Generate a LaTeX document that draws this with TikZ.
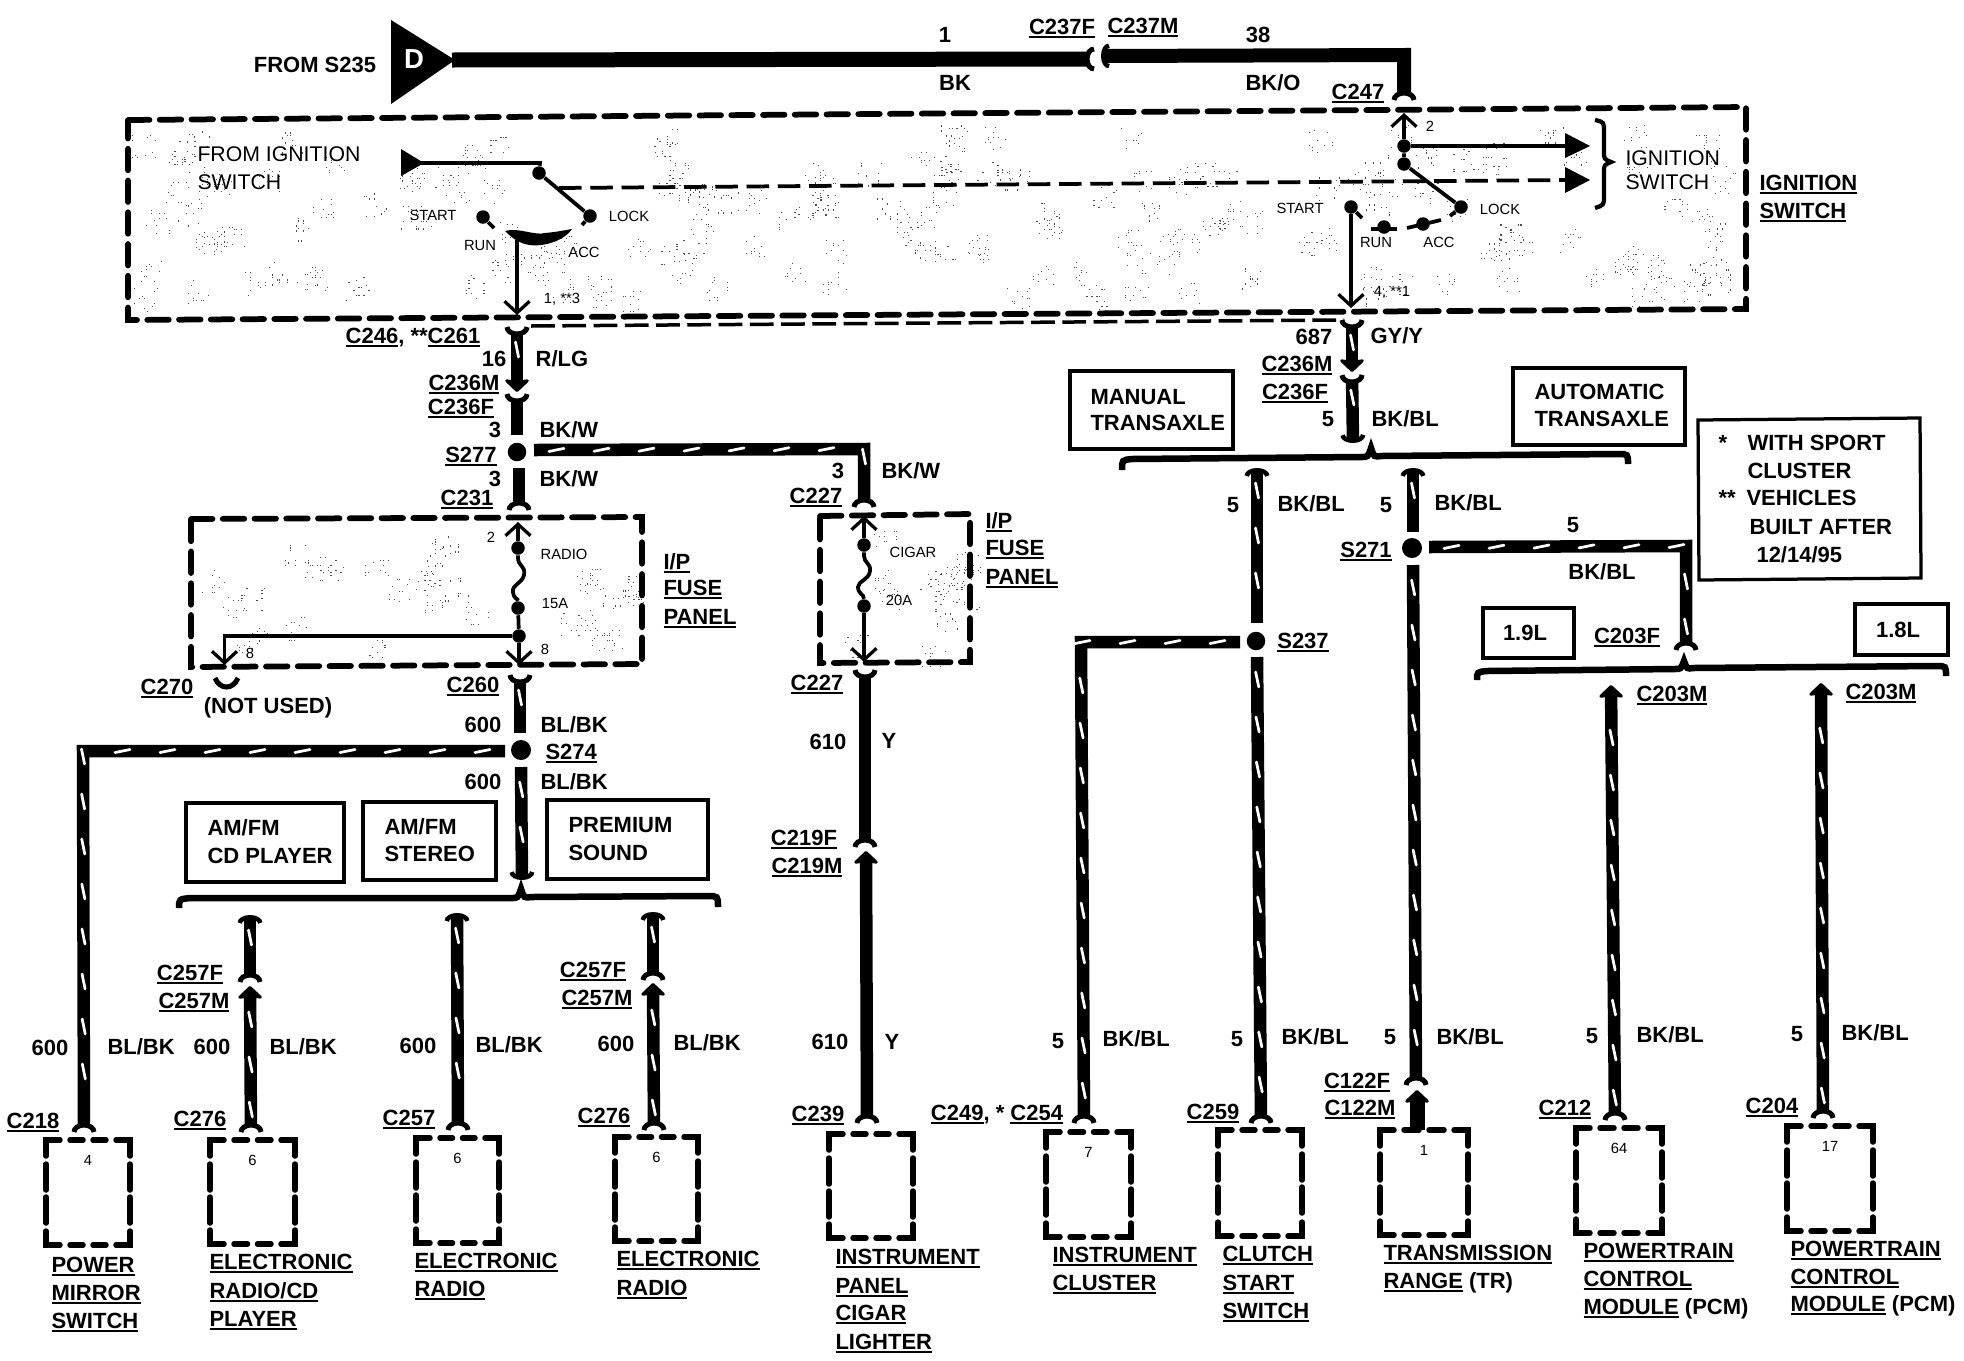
\documentclass[tikz,border=0pt]{standalone}
\usepackage{fontspec}
\setmainfont{Liberation Sans}
\usetikzlibrary{arrows.meta,decorations.markings}
\newsavebox\uubox
\newcommand\labC[4]{\node[lbb] (#1) at (#2,#3) {#4};}
\newcommand\labW[4]{\node[lbb,anchor=west] (#1) at (#2,#3) {#4};}
\newcommand\labR[4]{\node[lbr,anchor=west] (#1) at (#2,#3) {#4};}
\newcommand\labS[4]{\node[lbs] (#1) at (#2,#3) {#4};}
\newcommand\uu[1]{\sbox\uubox{#1}\rlap{\rule[-1.1pt]{\wd\uubox}{0.65pt}}\usebox\uubox}
\newcommand\compbox[6]{%
 \node[lbs] (#1) at ({(#2+#4)/2},{#3+20}) {#6};
 \draw[cbx] (#2,{#3+16}) -- (#2,#3) -- ({#2+14},#3);
 \draw[cbx] ({#4-14},#3) -- (#4,#3) -- (#4,{#3+16});
 \draw[cbx] (#2,{#5-14}) -- (#2,#5) -- ({#2+14},#5);
 \draw[cbx] ({#4-14},#5) -- (#4,#5) -- (#4,{#5-14});
 \draw[cbx] ({#2+24},#3) -- ({(#2+#4)/2-5},#3);
 \draw[cbx] ({(#2+#4)/2+5},#3) -- ({#4-24},#3);
 \draw[cbx] ({#2+24},#5) -- ({(#2+#4)/2-5},#5);
 \draw[cbx] ({(#2+#4)/2+5},#5) -- ({#4-24},#5);
 \draw[cbx] (#2,{#3+24}) -- (#2,{#3+50});
 \draw[cbx] (#2,{#3+57}) -- (#2,{#3+83});
 \draw[cbx] (#4,{#3+24}) -- (#4,{#3+50});
 \draw[cbx] (#4,{#3+57}) -- (#4,{#3+83});
}
\newcommand\stipple[6]{% x y w h clusters seed
 \pgfmathsetseed{#6}
 \foreach \cc in {1,...,#5}{
  \pgfmathsetmacro\cx{#1+#3*rnd}
  \pgfmathsetmacro\cy{#2+#4*rnd}
  \foreach \dd in {1,...,12}{
   \pgfmathsetmacro\dx{\cx+int(10*rnd)*2.5}
   \pgfmathsetmacro\dy{\cy+int(10*rnd)*2.5}
   \fill[black!70] (\dx,\dy) rectangle ++(1.1,1.1);
  }
 }
}
\tikzset{
 x=0.4pt,y=-0.4pt,
 lbb/.style={font=\fontsize{8.8pt}{10pt}\selectfont\bfseries,inner sep=0pt,text height=6.3pt,text depth=0pt},
 lbr/.style={font=\fontsize{8.5pt}{10pt}\selectfont,inner sep=0pt,text height=6.1pt,text depth=0pt},
 lbs/.style={font=\fontsize{5.9pt}{7pt}\selectfont,inner sep=0pt,text height=4.2pt,text depth=0pt},
 fl/.tip={Arc Barb[reversed,length=3.8pt,width=10pt,line width=2pt]},
 cb/.tip={Arc Barb[length=3.2pt,width=10pt,line width=1.8pt]},
 ma/.tip={Stealth[length=5.5pt,width=11.5pt,inset=0.8pt,round]},
 tn/.tip={Straight Barb[length=4.6pt,width=10pt,line width=1.3pt]},
 wire/.style={line width=5pt,line join=miter},
 slashed/.style={postaction={decorate,decoration={markings,
   mark=between positions 9pt and -9pt step 18pt with
   {\draw[white,line width=1.1pt,line cap=round,-] (-3pt,-0.6pt) -- (3pt,0.6pt);}}}},
 thinw/.style={line width=1.5pt},
 dbx/.style={line width=2.3pt,line cap=round,dash pattern=on 8.6pt off 4.1pt},
 cbx/.style={line width=2.2pt,line cap=round},
 shld/.style={line width=1.4pt,dash pattern=on 9.5pt off 3pt},
 brc/.style={line width=2.6pt},
 tbox/.style={draw,line width=1.3pt},
 dotn/.style={circle,fill=black,inner sep=0pt,minimum size=5.4pt},
 sdot/.style={circle,fill=black,inner sep=0pt,minimum size=7.4pt},
}
\begin{document}
\begin{tikzpicture}
\useasboundingbox (0,0) rectangle (1964,1360);
\fill[white] (0,0) rectangle (1964,1360);
% ---- stipple
\stipple{132}{124}{1590}{165}{170}{11}
\stipple{196}{524}{435}{120}{28}{23}
\stipple{826}{522}{135}{125}{14}{37}
% ---- top feed
\fill (391,20) -- (455,60) -- (391,104) -- cycle;
\node[font=\fontsize{11pt}{12pt}\selectfont\bfseries,text=white,inner sep=0pt] (dlet) at (414,59) {D};
\coordinate (t1) at (452,60); \coordinate (t2) at (1094,59);
\draw[wire,line width=6pt,-{fl}] (t1) -- (t2);
\coordinate (t3) at (1101,56); \coordinate (t4) at (1404,55); \coordinate (t5) at (1404,100);
\draw[wire,line width=5.6pt,{cb}-{fl}] (t3) -- (t4) -- (t5);
\labC{fromsb}{315}{65}{FROM S235}
\labC{n1}{945}{35}{1}
\labC{nbk}{955}{83}{BK}
\labC{c237f}{1062}{27}{\uu{C237F}}
\labC{c237m}{1143}{26}{\uu{C237M}}
\labC{n38}{1258}{35}{38}
\labC{nbko}{1273}{83}{BK/O}
\labC{c247}{1358}{92}{\uu{C247}}
% ---- ignition box
\coordinate (ig1) at (128,120); \coordinate (ig2) at (1746,107);
\coordinate (ig3) at (1746,309); \coordinate (ig4) at (128,320);
\draw[dbx] (ig1) -- (ig2) -- (ig3) -- (ig4) -- cycle;
\coordinate (sh1) at (531,326); \coordinate (sh2) at (1344,320);
\draw[shld] (sh1) -- (sh2);
\labR{fi1}{197}{154}{FROM IGNITION}
\labR{fi2}{197}{182}{SWITCH}
% left switch
\fill (401,149) -- (424,163) -- (401,176) -- cycle;
\node[dotn] (la) at (539,173) {};
\node[dotn] (lb) at (590,216) {};
\node[dotn] (lc) at (483,217) {};
\coordinate (l0) at (420,163); \coordinate (l1) at (540,163);
\draw[thinw] (l0) -- (l1) -- (la);
\draw[thinw] (la) -- (lb);
\coordinate (l2) at (582,225); \draw[thinw] (lb) -- (l2);
\coordinate (l3) at (494,228); \draw[thinw] (lc) -- (l3);
\coordinate (j1) at (505,231); \coordinate (j2) at (572,229); \coordinate (j3) at (517,240); \coordinate (j4) at (517,315);
\fill (j1) .. controls (518,227) and (535,236) .. (545,233) .. controls (555,232) .. (j2) .. controls (565,240) and (545,247) .. (530,245) .. controls (520,244) and (512,238) .. cycle;
\draw[thinw,-{tn}] (j3) -- (j4);
\labS{lstart}{433}{215}{START}
\labS{lrun}{480}{245}{RUN}
\labS{lacc}{584}{252}{ACC}
\labS{llock}{629}{216}{LOCK}
\labS{lp1}{562}{298}{1, **3}
% dashed internal
\coordinate (d1) at (559,188); \coordinate (d2) at (1566,180);
\draw[line width=1.5pt,dash pattern=on 9pt off 3.5pt] (d1) -- (d2);
% right switch
\coordinate (ra0) at (1404,113);
\node[dotn] (ra) at (1404,146) {};
\node[dotn] (rb) at (1404,164) {};
\node[dotn] (rc) at (1461,207) {};
\node[dotn] (rd) at (1351,207) {};
\node[dotn] (re) at (1384,227) {};
\node[dotn] (rf) at (1423,224) {};
\draw[thinw,{tn}-] (ra0) -- (ra);
\draw[thinw] (ra) -- (rb) -- (rc);
\coordinate (r2) at (1450,216); \draw[thinw] (rc) -- (r2);
\coordinate (r3) at (1362,218); \draw[thinw] (rd) -- (r3);
\coordinate (r4) at (1371,229); \coordinate (r5) at (1397,229); \draw[thinw] (r4) -- (r5);
\coordinate (r6) at (1407,228); \coordinate (r7) at (1441,220); \draw[thinw] (r6) -- (r7);
\coordinate (r8) at (1351,308); \draw[thinw,-{tn}] (rd) -- (r8);
\coordinate (tr1) at (1590,146);
\draw[thinw] (ra) -- (1566,146);
\fill (1565,133) -- (tr1) -- (1565,158) -- cycle;
\fill (1565,167) -- (1590,180) -- (1565,193) -- cycle;
\draw[line width=1.7pt] (1595,120) .. controls (1604,122) .. (1604,132) -- (1604,152) .. controls (1604,159) .. (1611,162) .. controls (1604,165) .. (1604,172) -- (1604,196) .. controls (1604,205) .. (1595,208);
\labS{rtwo}{1430}{126}{2}
\labS{rstart}{1300}{208}{START}
\labS{rrun}{1376}{242}{RUN}
\labS{racc}{1439}{242}{ACC}
\labS{rlock}{1500}{209}{LOCK}
\labS{rp4}{1392}{291}{4, **1}
\labR{ig1t}{1625}{158}{IGNITION}
\labR{ig2t}{1625}{182}{SWITCH}
\labW{ig3t}{1759}{183}{\uu{IGNITION}}
\labW{ig4t}{1759}{211}{\uu{SWITCH}}
% ---- left trunk
\coordinate (a1) at (517,327); \coordinate (a2) at (517,392);
\draw[wire,slashed,{fl}-{ma}] (a1) -- (a2);
\coordinate (a3) at (517,394); \coordinate (a4) at (517,435);
\draw[wire,slashed,{fl}-] (a3) -- (a4);
\node[sdot] (S277) at (517,452) {};
\coordinate (a5) at (519,468); \coordinate (a6) at (519,510);
\draw[wire,slashed,-{fl}] (a5) -- (a6);
\coordinate (a7) at (534,450); \coordinate (a8) at (864,449); \coordinate (a9) at (864,507);
\draw[wire,slashed,-{fl}] (a7) -- (a8) -- (a9);
\labC{c246}{413}{336}{\uu{C246}, **\uu{C261}}
\labC{n16}{494}{359}{16}
\labC{nrlg}{562}{359}{R/LG}
\labC{c236ml}{464}{383}{\uu{C236M}}
\labC{c236fl}{461}{407}{\uu{C236F}}
\labC{n3a}{495}{430}{3}
\labW{bkw1}{539}{430}{BK/W}
\labC{s277t}{471}{455}{\uu{S277}}
\labC{n3b}{495}{479}{3}
\labW{bkw2}{539}{479}{BK/W}
\labC{c231}{467}{498}{\uu{C231}}
\labC{n3c}{838}{471}{3}
\labW{bkw3}{881}{471}{BK/W}
\labC{c227a}{816}{496}{\uu{C227}}
% ---- radio fuse box
\coordinate (f1) at (191,519); \coordinate (f2) at (642,517); \coordinate (f3) at (642,664); \coordinate (f4) at (191,667);
\draw[dbx] (f1) -- (f2) -- (f3) -- (f4) -- cycle;
\coordinate (fa) at (518,522);
\node[dotn] (fb) at (518,548) {};
\node[dotn] (fc) at (518,608) {};
\node[dotn] (fd) at (519,636) {};
\coordinate (fe) at (519,665);
\draw[thinw,{tn}-] (fa) -- (fb);
\draw[thinw] (fb) -- (518,558) .. controls (518,566) and (526,566) .. (524,575) .. controls (522,584) and (512,584) .. (513,592) .. controls (514,600) and (518,598) .. (fc);
\draw[thinw] (fc) -- (fd);
\draw[thinw,-{tn}] (fd) -- (fe);
\coordinate (fg) at (224.5,636); \coordinate (fh) at (224.5,665);
\draw[thinw,-{tn}] (fd) -- (fg) -- (fh);
\labS{f2t}{491}{537}{2}
\labS{fradio}{564}{554}{RADIO}
\labS{f15a}{555}{603}{15A}
\labS{f8r}{545}{649}{8}
\labS{f8l}{250}{653}{8}
\labW{ipa}{663}{562}{\uu{I/P}}
\labW{ipb}{663}{588}{\uu{FUSE}}
\labW{ipc}{663}{617}{\uu{PANEL}}
\labC{c270}{167}{687}{\uu{C270}}
\coordinate (sm1) at (215,678); \coordinate (sm2) at (238,678);
\draw[line width=2pt] (sm1) .. controls (220,690) and (233,690) .. (sm2);
\labC{notused}{268}{706}{(NOT USED)}
\labC{c260}{473}{685}{\uu{C260}}
% ---- S274
\coordinate (b1) at (520,675); \coordinate (b2) at (520,733);
\draw[wire,slashed,{fl}-] (b1) -- (b2);
\node[sdot,minimum size=8pt] (S274) at (521,750) {};
\coordinate (b3) at (505,751); \coordinate (b4) at (83,751); \coordinate (b5) at (84,1132);
\draw[wire,slashed,-{fl}] (b3) -- (b4) -- (b5);
\coordinate (b6) at (521,767); \coordinate (b7) at (522,880);
\draw[wire,slashed,-{cb}] (b6) -- (b7);
\labC{n600a}{483}{725}{600}
\labW{blbka}{540}{725}{BL/BK}
\labW{s274t}{545}{752}{\uu{S274}}
\labC{n600b}{483}{782}{600}
\labW{blbkb}{540}{782}{BL/BK}
% ---- option boxes
\draw[tbox] (186,803) rectangle (344,882);
\labW{cd1}{207}{828}{AM/FM}
\labW{cd2}{207}{856}{CD PLAYER}
\draw[tbox] (363,802) rectangle (496,880);
\labW{st1}{384}{827}{AM/FM}
\labW{st2}{384}{854}{STEREO}
\draw[tbox] (547,800) rectangle (708,879);
\labW{pr1}{568}{825}{PREMIUM}
\labW{pr2}{568}{853}{SOUND}
\draw[brc] (179,908) .. controls (179,899) .. (191,898) -- (511,898) .. controls (518,898) .. (521,889) .. controls (524,898) .. (531,897) -- (707,896) .. controls (718,896) .. (718,907);
% ---- radio wires
\coordinate (c1) at (250,915); \coordinate (c2) at (250,982); \coordinate (c3) at (251,1132); \coordinate (c4) at (250,986);
\draw[wire,slashed,{cb}-{fl}] (c1) -- (c2);
\draw[wire,slashed,{fl}-{ma}] (c3) -- (c4);
\coordinate (e1) at (457,913); \coordinate (e2) at (458,1130);
\draw[wire,slashed,{cb}-{fl}] (e1) -- (e2);
\coordinate (g1) at (653,912); \coordinate (g2) at (653,980); \coordinate (g3) at (654,1130); \coordinate (g4) at (653,983);
\draw[wire,slashed,{cb}-{fl}] (g1) -- (g2);
\draw[wire,slashed,{fl}-{ma}] (g3) -- (g4);
\labC{c257fa}{190}{973}{\uu{C257F}}
\labC{c257ma}{194}{1001}{\uu{C257M}}
\labC{n600c}{50}{1048}{600}
\labW{blbkc}{107}{1047}{BL/BK}
\labC{n600d}{212}{1047}{600}
\labW{blbkd}{269}{1047}{BL/BK}
\labC{c218}{33}{1121}{\uu{C218}}
\labC{c276a}{200}{1119}{\uu{C276}}
\labC{n600e}{418}{1046}{600}
\labW{blbke}{475}{1045}{BL/BK}
\labC{c257}{409}{1118}{\uu{C257}}
\labC{c257fb}{593}{970}{\uu{C257F}}
\labC{c257mb}{597}{998}{\uu{C257M}}
\labC{n600f}{616}{1044}{600}
\labW{blbkf}{673}{1043}{BL/BK}
\labC{c276b}{604}{1116}{\uu{C276}}
\compbox{bx1}{46}{1140}{130}{1245}{4}
\compbox{bx2}{210}{1140}{295}{1244}{6}
\compbox{bx3}{416}{1138}{499}{1243}{6}
\compbox{bx4}{615}{1137}{698}{1241}{6}
\labW{m1}{51}{1265}{\uu{POWER}}
\labW{m2}{51}{1293}{\uu{MIRROR}}
\labW{m3}{51}{1321}{\uu{SWITCH}}
\labW{rc1}{209}{1262}{\uu{ELECTRONIC}}
\labW{rc2}{209}{1291}{\uu{RADIO/CD}}
\labW{rc3}{209}{1319}{\uu{PLAYER}}
\labW{ra1}{414}{1261}{\uu{ELECTRONIC}}
\labW{ra2}{414}{1289}{\uu{RADIO}}
\labW{rb1}{616}{1259}{\uu{ELECTRONIC}}
\labW{rb2}{616}{1288}{\uu{RADIO}}
% ---- cigar
\coordinate (k1) at (820,516); \coordinate (k2) at (970,514); \coordinate (k3) at (970,662); \coordinate (k4) at (820,663);
\draw[dbx] (k1) -- (k2) -- (k3) -- (k4) -- cycle;
\coordinate (ka) at (864,516);
\node[dotn] (kb) at (864,545) {};
\node[dotn] (kc) at (864,606) {};
\coordinate (kd) at (864,662);
\draw[thinw,{tn}-] (ka) -- (kb);
\draw[thinw] (kb) -- (864,556) .. controls (864,563) and (871,563) .. (870,571) .. controls (869,580) and (858,581) .. (858,587) .. controls (858,594) and (864,594) .. (kc);
\draw[thinw,-{tn}] (kc) -- (kd);
\labS{kcig}{913}{552}{CIGAR}
\labS{k20}{899}{600}{20A}
\labW{ipd}{985}{521}{\uu{I/P}}
\labW{ipe}{985}{548}{\uu{FUSE}}
\labW{ipf}{985}{577}{\uu{PANEL}}
\coordinate (h1) at (865,670); \coordinate (h2) at (865,847); \coordinate (h3) at (867,1123); \coordinate (h4) at (866,851);
\draw[wire,{fl}-{fl}] (h1) -- (h2);
\draw[wire,{fl}-{ma}] (h3) -- (h4);
\labC{c227b}{817}{683}{\uu{C227}}
\labC{n610a}{828}{742}{610}
\labC{ya}{889}{741}{Y}
\labC{c219f}{804}{838}{\uu{C219F}}
\labC{c219m}{807}{866}{\uu{C219M}}
\labC{n610b}{830}{1042}{610}
\labC{yb}{892}{1042}{Y}
\labC{c239}{818}{1114}{\uu{C239}}
\compbox{bx5}{829}{1134}{913}{1238}{}
\labW{ci1}{835}{1257}{\uu{INSTRUMENT}}
\labW{ci2}{835}{1286}{\uu{PANEL}}
\labW{ci3}{835}{1313}{\uu{CIGAR}}
\labW{ci4}{835}{1342}{\uu{LIGHTER}}
% ---- right trunk
\coordinate (p1) at (1352,320); \coordinate (p2) at (1352,372);
\draw[wire,slashed,{fl}-{ma}] (p1) -- (p2);
\coordinate (p3) at (1352,375); \coordinate (p4) at (1353,443);
\draw[wire,slashed,{fl}-{cb}] (p3) -- (p4);
\labC{n687}{1314}{337}{687}
\labW{gyy}{1370}{336}{GY/Y}
\labC{c236mr}{1297}{364}{\uu{C236M}}
\labC{c236fr}{1295}{392}{\uu{C236F}}
\labC{n5a}{1328}{419}{5}
\labW{bkbla}{1371}{419}{BK/BL}
\draw[tbox] (1070,371) rectangle (1233,449);
\labW{mt1}{1090}{397}{MANUAL}
\labW{mt2}{1090}{423}{TRANSAXLE}
\draw[tbox] (1513,368) rectangle (1685,445);
\labW{at1}{1534}{392}{AUTOMATIC}
\labW{at2}{1534}{419}{TRANSAXLE}
\draw[brc] (1122,470) .. controls (1122,460) .. (1132,459) -- (1361,457) .. controls (1368,457) .. (1371,448) .. controls (1374,457) .. (1381,456) -- (1618,454) .. controls (1628,454) .. (1628,464);
% S237
\coordinate (q1) at (1257,468); \coordinate (q2) at (1257,623);
\draw[wire,slashed,{cb}-] (q1) -- (q2);
\node[sdot] (S237) at (1256,641) {};
\coordinate (q3) at (1257,657); \coordinate (q4) at (1261,1123);
\draw[wire,slashed,-{fl}] (q3) -- (q4);
\coordinate (q5) at (1240,642); \coordinate (q6) at (1081,642); \coordinate (q7) at (1084,1123);
\draw[wire,slashed,-{fl}] (q5) -- (q6) -- (q7);
\labC{n5b}{1233}{505}{5}
\labW{bkblb}{1277}{504}{BK/BL}
\labC{s237t}{1303}{641}{\uu{S237}}
\labC{n5c}{1058}{1041}{5}
\labW{bkblc}{1102}{1039}{BK/BL}
\labC{n5d}{1237}{1039}{5}
\labW{bkbld}{1281}{1037}{BK/BL}
\labC{c249}{997}{1113}{\uu{C249}, * \uu{C254}}
\labC{c259}{1213}{1112}{\uu{C259}}
\compbox{bx6}{1046}{1132}{1131}{1237}{7}
\labW{cl1}{1052}{1255}{\uu{INSTRUMENT}}
\labW{cl2}{1052}{1283}{\uu{CLUSTER}}
\compbox{bx7}{1218}{1130}{1302}{1236}{}
\labW{cs1}{1222}{1254}{\uu{CLUTCH}}
\labW{cs2}{1222}{1283}{\uu{START}}
\labW{cs3}{1222}{1311}{\uu{SWITCH}}
% S271
\coordinate (u1) at (1413,468); \coordinate (u2) at (1413,532);
\draw[wire,slashed,{cb}-] (u1) -- (u2);
\node[sdot,minimum size=8pt] (S271) at (1412,548) {};
\coordinate (u3) at (1413,565); \coordinate (u4) at (1416,1085);
\draw[wire,slashed,-{fl}] (u3) -- (u4);
\coordinate (u5) at (1417,1130); \coordinate (u6) at (1417,1090);
\draw[wire,line width=6pt,-{ma}] (u5) -- (u6);
\coordinate (u7) at (1429,547); \coordinate (u8) at (1686,546); \coordinate (u9) at (1686,650);
\draw[wire,slashed,-{fl}] (u7) -- (u8) -- (u9);
\labC{n5e}{1386}{505}{5}
\labW{bkble}{1434}{503}{BK/BL}
\labC{s271t}{1366}{550}{\uu{S271}}
\labC{n5f}{1573}{525}{5}
\labC{bkblf}{1602}{572}{BK/BL}
\labC{c122f}{1357}{1081}{\uu{C122F}}
\labC{c122m}{1360}{1108}{\uu{C122M}}
\labC{n5g}{1390}{1037}{5}
\labW{bkblg}{1436}{1037}{BK/BL}
\compbox{bx8}{1380}{1130}{1468}{1235}{1}
\labW{tr1t}{1383}{1253}{\uu{TRANSMISSION}}
\labW{tr2t}{1383}{1281}{\uu{RANGE} (TR)}
% ---- note
\draw[tbox] (1698,420) -- (1920,418) -- (1921,578) -- (1699,580) -- cycle;
\labW{ns1}{1718}{443}{*}
\labW{nt1}{1747}{443}{WITH SPORT}
\labW{nt2}{1747}{471}{CLUSTER}
\labW{ns2}{1718}{498}{**}
\labW{nt3}{1746}{498}{VEHICLES}
\labW{nt4}{1749}{527}{BUILT AFTER}
\labW{nt5}{1756}{555}{12/14/95}
% ---- engine options
\draw[tbox] (1483,608) rectangle (1574,658);
\labC{l19}{1525}{633}{1.9L}
\labC{c203f}{1627}{636}{\uu{C203F}}
\draw[tbox] (1855,604) rectangle (1948,655);
\labC{l18}{1898}{630}{1.8L}
\draw[brc] (1477,680) .. controls (1477,672) .. (1487,671) -- (1675,669) .. controls (1681,669) .. (1684,661) .. controls (1687,669) .. (1693,668) -- (1936,666) .. controls (1946,666) .. (1946,676);
\coordinate (v1) at (1615,1120); \coordinate (v2) at (1611,685);
\draw[wire,slashed,{fl}-{ma}] (v1) -- (v2);
\coordinate (v3) at (1823,1118); \coordinate (v4) at (1821,683);
\draw[wire,slashed,{fl}-{ma}] (v3) -- (v4);
\labC{c203ma}{1672}{694}{\uu{C203M}}
\labC{c203mb}{1881}{692}{\uu{C203M}}
\labC{n5h}{1592}{1036}{5}
\labW{bkblh}{1636}{1035}{BK/BL}
\labC{c212}{1565}{1108}{\uu{C212}}
\compbox{bx9}{1576}{1128}{1662}{1233}{64}
\labW{pa1}{1583}{1251}{\uu{POWERTRAIN}}
\labW{pa2}{1583}{1279}{\uu{CONTROL}}
\labW{pa3}{1583}{1307}{\uu{MODULE} (PCM)}
\labC{n5i}{1797}{1034}{5}
\labW{bkbli}{1841}{1033}{BK/BL}
\labC{c204}{1772}{1106}{\uu{C204}}
\compbox{bx10}{1787}{1126}{1873}{1231}{17}
\labW{pb1}{1790}{1249}{\uu{POWERTRAIN}}
\labW{pb2}{1790}{1277}{\uu{CONTROL}}
\labW{pb3}{1790}{1304}{\uu{MODULE} (PCM)}
\end{tikzpicture}
\end{document}
